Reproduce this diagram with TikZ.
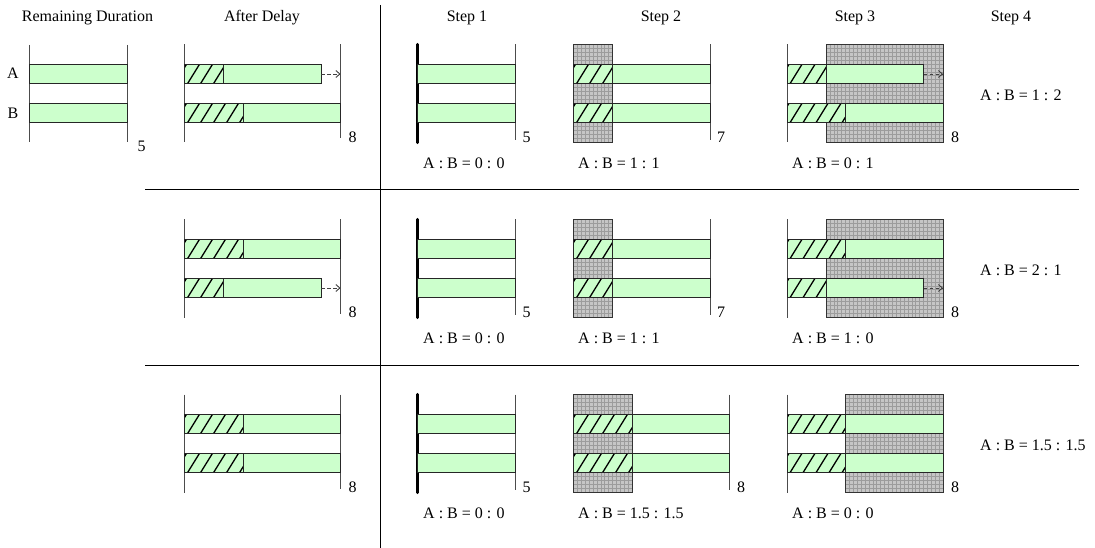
\documentclass[tikz,border=0pt]{standalone}
\usepackage{fontspec}
\setmainfont{Liberation Serif}
\usetikzlibrary{arrows.meta}
\definecolor{barg}{HTML}{CCFFCC}
\definecolor{gridbg}{HTML}{C6C6C6}
\definecolor{gridln}{HTML}{9C9C9C}
\tikzset{
  lbl/.style={inner sep=0pt, font=\fontsize{16}{19}\selectfont},
  barline/.style={draw=black!85, line width=0.9pt},
  axisline/.style={draw=black!70, line width=1pt},
  thickaxis/.style={draw=black, line width=3.4pt, line cap=round},
  sepline/.style={draw=black, line width=1pt},
  hatchln/.style={draw=black, line width=1.3pt},
  gridframe/.style={draw=black!80, line width=0.9pt},
  gridlines/.style={draw=gridln, line width=0.45pt},
  dasharrow/.style={draw=black!75, line width=0.9pt, dash pattern=on 3.5pt off 2.5pt, -{Straight Barb[length=4pt,width=7pt]}},
}
% #1 origin x, #2 top y, #3 hatched units, #4 end units
\newcommand\mybar[4]{%
  \pgfmathsetmacro\xa{#1}%
  \pgfmathsetmacro\xb{#1+#3*19.5}%
  \pgfmathsetmacro\xc{#1+#4*19.5}%
  \pgfmathsetmacro\yb{#2+19.4}%
  \ifdim #3pt>0pt
    \fill[barg] (\xa,#2) rectangle (\xb,\yb);
    \begin{scope}
      \clip (\xa,#2) rectangle (\xb,\yb);
      \foreach \k in {0,...,6}{\draw[hatchln] ({\xa-10+\k*13},\yb) -- ++(12,-19.4);}
    \end{scope}
    \draw[barline] (\xa,#2) rectangle (\xb,\yb);
  \fi
  \draw[barline, fill=barg] (\xb,#2) rectangle (\xc,\yb);
}
% dashed arrow: #1 origin x, #2 top y
\newcommand\myarrow[2]{%
  \pgfmathsetmacro\ya{#2+9.7}%
  \coordinate (ast) at ({#1+7*19.5},\ya);
  \coordinate (aen) at ({#1+8*19.5},\ya);
  \draw[dasharrow] (ast) -- (aen);
}
% grid box: x0, y0, x1, y1
\newcommand\mygrid[4]{%
  \fill[gridbg] (#1,#2) rectangle (#3,#4);
  \begin{scope}
    \clip (#1,#2) rectangle (#3,#4);
    \foreach \k in {1,...,31}{\draw[gridlines] ({#1+\k*3.9},#2) -- ++(0,100);}
    \foreach \k in {1,...,26}{\draw[gridlines] (#1,{#2+\k*3.9}) -- ++(130,0);}
  \end{scope}
  \draw[gridframe] (#1,#2) rectangle (#3,#4);
}
\begin{document}
\begin{tikzpicture}[x=1pt,y=-1pt]
\useasboundingbox (0,0) rectangle (1095,548);

% titles
\node[lbl] (t0) at (87.5,18) {Remaining Duration};
\node[lbl] (t1) at (262,18) {After Delay};
\node[lbl] (t2) at (467,18) {Step 1};
\node[lbl] (t3) at (661,18) {Step 2};
\node[lbl] (t4) at (855,18) {Step 3};
\node[lbl] (t5) at (1011,18) {Step 4};

% separators
\coordinate (v1) at (380,5); \coordinate (v2) at (380,548);
\draw[sepline] (v1) -- (v2);
\coordinate (h1a) at (145,190); \coordinate (h1b) at (1079,190);
\draw[sepline] (h1a) -- (h1b);
\coordinate (h2a) at (145,365); \coordinate (h2b) at (1079,365);
\draw[sepline] (h2a) -- (h2b);

% ---------- Remaining duration ----------
\draw[axisline] (29.5,45) -- (29.5,142.5);
\draw[axisline] (127,45) -- (127,142.5);
\mybar{29.5}{64.3}{0}{5}
\mybar{29.5}{103.3}{0}{5}
\node[lbl] (la) at (13,73) {A};
\node[lbl] (lb) at (13,113) {B};
\node[lbl] (n5) at (141.5,146) {5};

% ---------- rows ----------
\foreach \r/\ha/\ea/\hb/\eb/\arr/\sa/\sb/\sc/\sd [count=\i] in
  {0/2/7/3/8/1/{1 : 1}/{0 : 1}/{1 : 2}/2,
   175/3/8/2/7/2/{1 : 1}/{1 : 0}/{2 : 1}/2,
   350/3/8/3/8/0/{1.5 : 1.5}/{0 : 0}/{1.5 : 1.5}/3}{
  \pgfmathsetmacro\ta{64.3+\r}
  \pgfmathsetmacro\tb{103.3+\r}
  \pgfmathsetmacro\ytop{44.5+\r}
  \pgfmathsetmacro\ybot{142.5+\r}
  \pgfmathsetmacro\ynum{137.5+\r}
  \pgfmathsetmacro\ytxt{163+\r}
  % After delay
  \draw[axisline] (184.5,\ytop) -- (184.5,\ybot);
  \draw[axisline] (340.5,\ytop) -- (340.5,{\ybot-4});
  \mybar{184.5}{\ta}{\ha}{\ea}
  \mybar{184.5}{\tb}{\hb}{\eb}
  \ifnum\arr=1 \myarrow{184.5}{\ta}\fi
  \ifnum\arr=2 \myarrow{184.5}{\tb}\fi
  \node[lbl] (ad\i) at (352.5,\ynum) {8};
  % Step 1
  \draw[thickaxis] (417.5,\ytop) -- (417.5,\ybot);
  \draw[axisline] (515,\ytop) -- (515,{\ybot-2.5});
  \mybar{417.5}{\ta}{0}{5}
  \mybar{417.5}{\tb}{0}{5}
  \node[lbl] (sa\i) at (526.5,\ynum) {5};
  \node[lbl, anchor=west] (ta\i) at (423,\ytxt) {A : B = 0 : 0};
  % Step 2
  \ifnum\sd=2
    \mygrid{573.5}{\ytop}{612.5}{\ybot}
    \draw[axisline] (710,\ytop) -- (710,{\ybot-2.5});
    \mybar{573.5}{\ta}{2}{7}
    \mybar{573.5}{\tb}{2}{7}
    \node[lbl] (sb\i) at (721,\ynum) {7};
  \else
    \mygrid{573.5}{\ytop}{632}{\ybot}
    \draw[axisline] (729.5,\ytop) -- (729.5,{\ybot-2.5});
    \mybar{573.5}{\ta}{3}{8}
    \mybar{573.5}{\tb}{3}{8}
    \node[lbl] (sb\i) at (741,\ynum) {8};
  \fi
  \node[lbl, anchor=west] (tb\i) at (578,\ytxt) {A : B = \sa};
  % Step 3
  \draw[axisline] (787,\ytop) -- (787,\ybot);
  \ifnum\sd=2
    \mygrid{826}{\ytop}{943}{\ybot}
  \else
    \mygrid{845.5}{\ytop}{943}{\ybot}
  \fi
  \mybar{787}{\ta}{\ha}{\ea}
  \mybar{787}{\tb}{\hb}{\eb}
  \ifnum\arr=1 \myarrow{787}{\ta}\fi
  \ifnum\arr=2 \myarrow{787}{\tb}\fi
  \node[lbl] (sc\i) at (955,\ynum) {8};
  \node[lbl, anchor=west] (tc\i) at (792,\ytxt) {A : B = \sb};
  % Step 4
  \node[lbl, anchor=west] (td\i) at (980,{95+\r}) {A : B = \sc};
}
\end{tikzpicture}
\end{document}
